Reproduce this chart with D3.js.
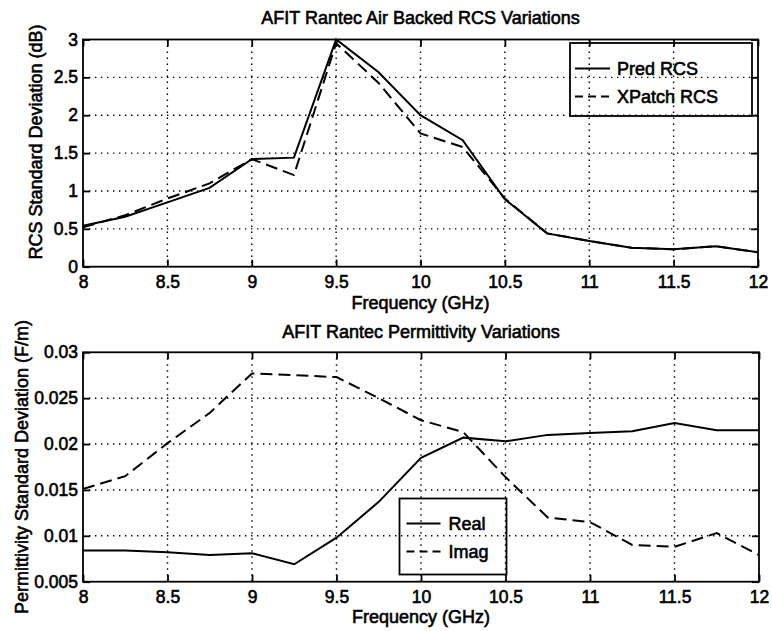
<!DOCTYPE html>
<html>
<head>
<meta charset="utf-8">
<script src="https://cdn.jsdelivr.net/npm/d3@7"></script>
<style>
  body { margin: 0; background: #fff; }
  text { font-family: "Liberation Sans", Arial, sans-serif; fill: #000; }
</style>
</head>
<body>
<div id="chart"></div>
<script>
// Frequencies (GHz), sampled every 0.25
const freq = [8, 8.25, 8.5, 8.75, 9, 9.25, 9.5, 9.75, 10, 10.25, 10.5, 10.75, 11, 11.25, 11.5, 11.75, 12];

// Top panel: RCS standard deviation (dB)
const predRcs   = [0.54, 0.66, 0.85, 1.04, 1.42, 1.44, 3.0, 2.57, 2.0, 1.67, 0.89, 0.44, 0.34, 0.25, 0.23, 0.27, 0.19];
const xpatchRcs = [0.52, 0.68, 0.9, 1.1, 1.42, 1.21, 2.95, 2.43, 1.76, 1.58, 0.9, 0.44, 0.34, 0.25, 0.23, 0.27, 0.19];

// Bottom panel: permittivity standard deviation (F/m)
const realPerm = [0.0084, 0.0084, 0.0082, 0.0079, 0.0081, 0.0069, 0.0098, 0.0137, 0.0185, 0.0207, 0.0203, 0.0210, 0.0212, 0.0214, 0.0223, 0.0215, 0.0215];
const imagPerm = [0.0151, 0.0165, 0.0201, 0.0234, 0.0277, 0.0275, 0.0273, 0.0250, 0.0226, 0.0213, 0.0164, 0.0120, 0.0115, 0.0090, 0.0088, 0.0103, 0.0079];

// Tick values
const xTicks = [8, 8.5, 9, 9.5, 10, 10.5, 11, 11.5, 12];
const rcsTicks = [0, 0.5, 1, 1.5, 2, 2.5, 3];
const permTicks = [0.005, 0.01, 0.015, 0.02, 0.025, 0.03];

const width = 772, height = 631;

const svg = d3.select("#chart").append("svg")
    .attr("width", width)
    .attr("height", height);

function panel(opts) {
    const x = d3.scaleLinear().domain([8, 12]).range([opts.left, opts.right]);
    const y = d3.scaleLinear().domain(opts.yDomain).range([opts.bottom, opts.top]);
    const g = svg.append("g");

    // dotted grid
    g.selectAll(".vgrid").data(xTicks.slice(1, -1)).enter().append("line")
        .attr("x1", d => x(d)).attr("x2", d => x(d))
        .attr("y1", opts.top).attr("y2", opts.bottom)
        .attr("stroke", "#000").attr("stroke-width", 1.4)
        .attr("stroke-dasharray", "1.4,4.6");
    g.selectAll(".hgrid").data(opts.yTicks.slice(1, -1)).enter().append("line")
        .attr("y1", d => y(d)).attr("y2", d => y(d))
        .attr("x1", opts.left).attr("x2", opts.right)
        .attr("stroke", "#000").attr("stroke-width", 1.4)
        .attr("stroke-dasharray", "1.4,4.6");

    // axes with inward ticks
    const tickLen = 7;
    g.append("g").attr("transform", `translate(0,${opts.bottom})`)
        .call(d3.axisBottom(x).tickValues(xTicks).tickSize(-tickLen).tickPadding(9).tickFormat(d3.format("")))
        .call(a => a.select(".domain").remove());
    g.append("g").attr("transform", `translate(0,${opts.top})`)
        .call(d3.axisTop(x).tickValues(xTicks).tickSize(-tickLen).tickFormat(""))
        .call(a => a.select(".domain").remove());
    g.append("g").attr("transform", `translate(${opts.left},0)`)
        .call(d3.axisLeft(y).tickValues(opts.yTicks).tickSize(-tickLen).tickPadding(5).tickFormat(opts.fmt))
        .call(a => a.select(".domain").remove());
    g.append("g").attr("transform", `translate(${opts.right},0)`)
        .call(d3.axisRight(y).tickValues(opts.yTicks).tickSize(-tickLen).tickFormat(""))
        .call(a => a.select(".domain").remove());

    g.selectAll(".tick line").attr("stroke", "#000").attr("stroke-width", 1.8);
    g.selectAll(".tick text")
        .style("font-family", "'Liberation Sans', Arial, sans-serif")
        .style("font-size", "17.5px")
        .attr("stroke", "#000").attr("stroke-width", 0.6);

    // box
    g.append("rect")
        .attr("x", opts.left).attr("y", opts.top)
        .attr("width", opts.right - opts.left).attr("height", opts.bottom - opts.top)
        .attr("fill", "none").attr("stroke", "#000").attr("stroke-width", 1.8);

    // series
    const line = vals => d3.line().x((d, i) => x(freq[i])).y(d => y(d))(vals);
    g.append("path").attr("d", line(opts.dashedVals))
        .attr("fill", "none").attr("stroke", "#000").attr("stroke-width", 2)
        .attr("stroke-dasharray", "12,6");
    g.append("path").attr("d", line(opts.solidVals))
        .attr("fill", "none").attr("stroke", "#000").attr("stroke-width", 2);

    // title and labels
    const txt = (sel) => sel.style("font-size", "18px").attr("stroke", "#000").attr("stroke-width", 0.6);
    g.append("text").attr("x", (opts.left + opts.right) / 2).attr("y", opts.titleY)
        .attr("text-anchor", "middle").text(opts.title).call(txt);
    g.append("text").attr("x", (opts.left + opts.right) / 2).attr("y", opts.xLabelY)
        .attr("text-anchor", "middle").text("Frequency (GHz)").call(txt);
    g.append("text")
        .attr("transform", `translate(${opts.yLabelX},${opts.yLabelCY}) rotate(-90)`)
        .attr("text-anchor", "middle").text(opts.yLabel).call(txt);

    // legend (transparent box, like the original)
    const L = opts.legend;
    g.append("rect").attr("x", L.x).attr("y", L.y).attr("width", L.w).attr("height", L.h)
        .attr("fill", "none").attr("stroke", "#000").attr("stroke-width", 1.8);
    L.items.forEach((it, i) => {
        const ly = L.y + L.rowY[i];
        g.append("line").attr("x1", L.x + L.lineX0).attr("x2", L.x + L.lineX1)
            .attr("y1", ly).attr("y2", ly)
            .attr("stroke", "#000").attr("stroke-width", 2)
            .attr("stroke-dasharray", it.dashed ? "8,5" : null);
        g.append("text").attr("x", L.x + L.textX).attr("y", ly + 6.5)
            .text(it.label).call(txt);
    });
}

panel({
    left: 83, right: 758, top: 39.5, bottom: 266.7,
    yDomain: [0, 3], yTicks: rcsTicks, fmt: d3.format(""),
    solidVals: predRcs, dashedVals: xpatchRcs,
    title: "AFIT Rantec Air Backed RCS Variations", titleY: 24,
    xLabelY: 309, yLabel: "RCS Standard Deviation (dB)", yLabelX: 42, yLabelCY: 142,
    legend: {
        x: 570, y: 43, w: 182, h: 73, rowY: [25.5, 53.5], lineX0: 5, lineX1: 40, textX: 47,
        items: [{ label: "Pred RCS", dashed: false }, { label: "XPatch RCS", dashed: true }]
    }
});

panel({
    left: 83, right: 759, top: 352.3, bottom: 581.7,
    yDomain: [0.005, 0.03], yTicks: permTicks, fmt: d => String(+d.toFixed(3)),
    solidVals: realPerm, dashedVals: imagPerm,
    title: "AFIT Rantec Permittivity Variations", titleY: 338,
    xLabelY: 623, yLabel: "Permittivity Standard Deviation (F/m)", yLabelX: 28, yLabelCY: 467,
    legend: {
        x: 399.5, y: 498.5, w: 107, h: 76, rowY: [25, 53], lineX0: 7, lineX1: 41, textX: 49,
        items: [{ label: "Real", dashed: false }, { label: "Imag", dashed: true }]
    }
});
</script>
</body>
</html>
